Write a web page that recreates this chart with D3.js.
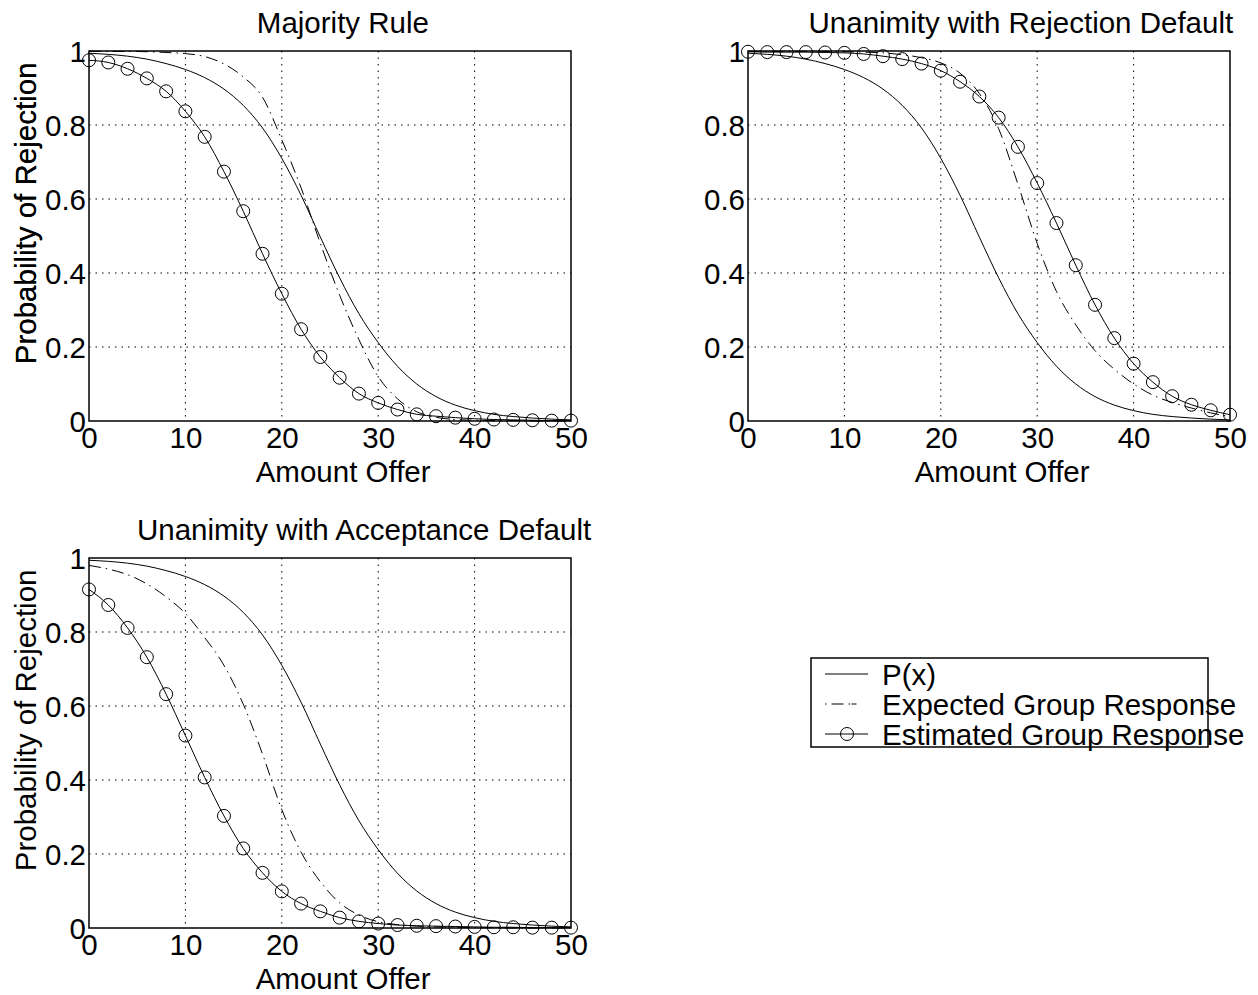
<!DOCTYPE html>
<html>
<head>
<meta charset="utf-8">
<script src="https://cdn.jsdelivr.net/npm/d3@7"></script>
<style>
  body { margin: 0; background: #fff; }
  text { font-family: "Liberation Sans", Arial, sans-serif; font-size: 29.5px; fill: #000; }
</style>
</head>
<body>
<div id="chart"></div>
<script>
// amount offered (x), markers every 2 units
var offers = [0, 2, 4, 6, 8, 10, 12, 14, 16, 18, 20, 22, 24, 26, 28, 30, 32, 34, 36, 38, 40, 42, 44, 46, 48, 50];

// individual rejection probability P(x), same in all panels
var pX = [0.994, 0.991, 0.986, 0.978, 0.966, 0.95, 0.928, 0.897, 0.853, 0.792, 0.71, 0.61, 0.497, 0.387, 0.29, 0.212, 0.148, 0.1, 0.066, 0.043, 0.028, 0.018, 0.012, 0.008, 0.005, 0.003];

var majorityExpected = [0.999, 0.999, 0.999, 0.998, 0.996, 0.993, 0.985, 0.965, 0.93, 0.875, 0.76, 0.63, 0.48, 0.34, 0.22, 0.12, 0.06, 0.025, 0.01, 0.004, 0.002, 0.001, 0.001, 0, 0, 0];
var majorityEstimated = [0.975, 0.969, 0.952, 0.926, 0.891, 0.837, 0.768, 0.674, 0.567, 0.452, 0.344, 0.248, 0.173, 0.117, 0.074, 0.049, 0.031, 0.018, 0.013, 0.009, 0.006, 0.004, 0.003, 0.002, 0.001, 0.001];

var rejectExpected = [0.999, 0.999, 0.999, 0.999, 0.999, 0.998, 0.997, 0.995, 0.99, 0.982, 0.968, 0.94, 0.885, 0.79, 0.64, 0.48, 0.35, 0.26, 0.19, 0.14, 0.1, 0.07, 0.05, 0.035, 0.022, 0.012];
var rejectEstimated = [0.998, 0.997, 0.997, 0.997, 0.996, 0.995, 0.992, 0.986, 0.978, 0.966, 0.947, 0.917, 0.877, 0.82, 0.741, 0.643, 0.535, 0.421, 0.314, 0.224, 0.155, 0.105, 0.067, 0.044, 0.029, 0.017];

var acceptExpected = [0.98, 0.97, 0.955, 0.93, 0.895, 0.85, 0.785, 0.71, 0.605, 0.47, 0.32, 0.205, 0.125, 0.068, 0.035, 0.017, 0.009, 0.005, 0.003, 0.002, 0.001, 0.001, 0, 0, 0, 0];
var acceptEstimated = [0.915, 0.873, 0.811, 0.732, 0.632, 0.52, 0.407, 0.303, 0.215, 0.149, 0.099, 0.066, 0.045, 0.028, 0.018, 0.012, 0.008, 0.006, 0.005, 0.004, 0.003, 0.002, 0.002, 0.001, 0.001, 0.001];

var titles = ["Majority Rule", "Unanimity with Rejection Default", "Unanimity with Acceptance Default"];
var xTicks = [0, 10, 20, 30, 40, 50];
var yTicks = [0, 0.2, 0.4, 0.6, 0.8, 1];
var legendLabels = ["P(x)", "Expected Group Response", "Estimated Group Response"];

var svg = d3.select("#chart").append("svg")
	.attr("width", 1258)
	.attr("height", 995);

var pw = 482, ph = 370;
var panels = [
	{ title: titles[0], expected: majorityExpected, estimated: majorityEstimated, left: 89, top: 51 },
	{ title: titles[1], expected: rejectExpected, estimated: rejectEstimated, left: 748, top: 51 },
	{ title: titles[2], expected: acceptExpected, estimated: acceptEstimated, left: 89, top: 558 }
];

var x = d3.scaleLinear().domain([0, 50]).range([0, pw]);
var y = d3.scaleLinear().domain([0, 1]).range([ph, 0]);

function series(vals) {
	return offers.map(function (o, i) { return [o, vals[i]]; });
}

var line = d3.line()
	.x(function (d) { return x(d[0]); })
	.y(function (d) { return y(d[1]); })
	.curve(d3.curveMonotoneX);

// text that matlab centred with a narrower width guess: start a bit left of centre
function offCentre(sel, cx) {
	var len = sel.node().getComputedTextLength();
	sel.attr("x", cx - 0.425 * len);
}

panels.forEach(function (p) {
	var g = svg.append("g").attr("transform", "translate(" + p.left + "," + p.top + ")");

	// dotted grid
	g.append("g").selectAll("line")
		.data(xTicks.slice(1, -1))
		.enter().append("line")
		.attr("x1", function (d) { return x(d); })
		.attr("x2", function (d) { return x(d); })
		.attr("y1", 0).attr("y2", ph)
		.attr("stroke", "#000").attr("stroke-width", 1)
		.attr("stroke-dasharray", "1.5,5");
	g.append("g").selectAll("line")
		.data(yTicks.slice(1, -1))
		.enter().append("line")
		.attr("y1", function (d) { return y(d); })
		.attr("y2", function (d) { return y(d); })
		.attr("x1", 0).attr("x2", pw)
		.attr("stroke", "#000").attr("stroke-width", 1)
		.attr("stroke-dasharray", "1.5,5");

	// axes
	var xa = g.append("g").attr("transform", "translate(0," + ph + ")")
		.call(d3.axisBottom(x).tickValues(xTicks).tickSize(0).tickPadding(6).tickFormat(d3.format("d")));
	var ya = g.append("g")
		.call(d3.axisLeft(y).tickValues(yTicks).tickSize(0).tickPadding(3).tickFormat(function (d) { return d === 0 || d === 1 ? d : d3.format(".1f")(d); }));
	[xa, ya].forEach(function (a) {
		a.select(".domain").remove();
		a.selectAll("text").attr("font-family", null).attr("font-size", null).attr("fill", "#000");
	});
	xa.selectAll("text").attr("dy", "0.71em");
	ya.selectAll("text").attr("dy", "0.34em");

	g.append("rect")
		.attr("width", pw).attr("height", ph)
		.attr("fill", "none").attr("stroke", "#000").attr("stroke-width", 1.5);

	// curves
	g.append("path").datum(series(pX))
		.attr("d", line).attr("fill", "none").attr("stroke", "#000").attr("stroke-width", 1);
	g.append("path").datum(series(p.expected))
		.attr("d", line).attr("fill", "none").attr("stroke", "#000").attr("stroke-width", 1)
		.attr("stroke-dasharray", "12,5,1.5,5");
	g.append("path").datum(series(p.estimated))
		.attr("d", line).attr("fill", "none").attr("stroke", "#000").attr("stroke-width", 1);
	g.selectAll("circle")
		.data(series(p.estimated))
		.enter().append("circle")
		.attr("cx", function (d) { return x(d[0]); })
		.attr("cy", function (d) { return y(d[1]); })
		.attr("r", 6.5)
		.attr("fill", "none").attr("stroke", "#000").attr("stroke-width", 1);

	// labels
	var t = g.append("text").attr("y", -18).text(p.title);
	offCentre(t, pw / 2);
	var xl = g.append("text").attr("y", ph + 61).text("Amount Offer");
	offCentre(xl, pw / 2);
	var yl = g.append("text").attr("y", 0).text("Probability of Rejection");
	var ylen = yl.node().getComputedTextLength();
	yl.attr("transform", "translate(" + (36 - p.left) + "," + (ph / 2 + 0.425 * ylen) + ") rotate(-90)");
});

// legend
var lg = svg.append("g").attr("transform", "translate(811,658)");
lg.append("rect").attr("width", 397).attr("height", 89)
	.attr("fill", "#fff").attr("stroke", "#000").attr("stroke-width", 1.5);
var rows = lg.selectAll(".row")
	.data(legendLabels)
	.enter().append("g")
	.attr("class", "row")
	.attr("transform", function (d, i) { return "translate(0," + (16 + i * 30) + ")"; });
rows.append("line")
	.attr("x1", 14).attr("x2", 57)
	.attr("stroke", "#000").attr("stroke-width", 1)
	.attr("stroke-dasharray", function (d, i) { return i === 1 ? "1.5,5,12,5,1.5" : null; });
rows.filter(function (d, i) { return i === 2; }).append("circle")
	.attr("cx", 36).attr("r", 6.5)
	.attr("fill", "none").attr("stroke", "#000");
rows.append("text")
	.attr("x", 71).attr("dy", "0.36em")
	.text(function (d) { return d; });
</script>
</body>
</html>
